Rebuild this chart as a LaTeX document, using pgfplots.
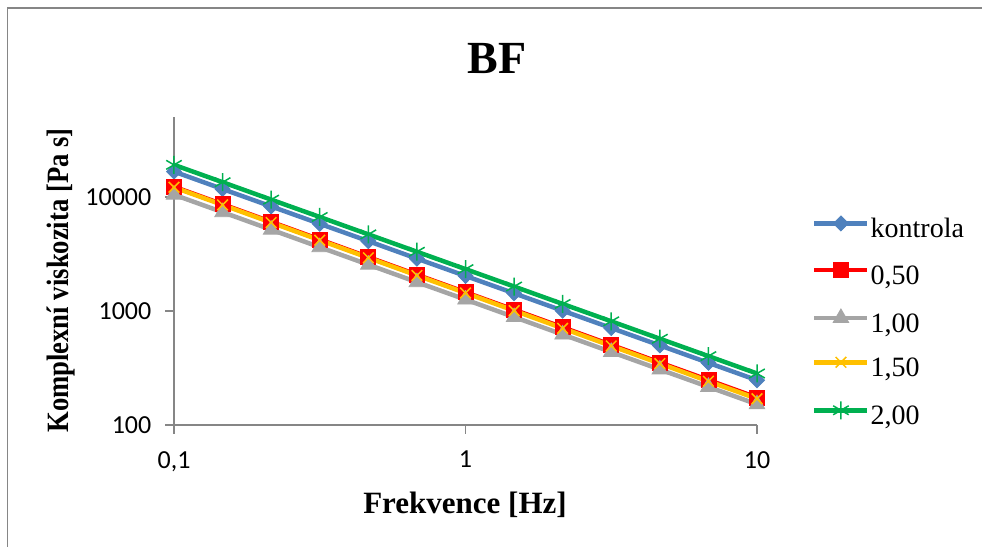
\documentclass[border=0pt]{standalone}
\usepackage{pgfplots}
\pgfplotsset{compat=1.18}
\usepackage{fontspec}
\setmainfont{Liberation Serif}
\newfontfamily\carlito{Carlito}
\definecolor{cBlue}{HTML}{4F81BD}
\definecolor{cRed}{HTML}{FF0000}
\definecolor{cGray}{HTML}{A5A5A5}
\definecolor{cYel}{HTML}{FFC000}
\definecolor{cGreen}{HTML}{00B050}
\definecolor{axgray}{HTML}{868686}
\begin{document}
\begin{tikzpicture}
\path[use as bounding box] (0,0) rectangle (982bp,-547bp);
\draw[color=axgray, line width=1.5bp] (7.5bp,-547bp) -- (7.5bp,-8bp) -- (982bp,-8bp);
\node[anchor=base, font=\fontsize{46bp}{50bp}\selectfont\bfseries] at (497bp,-73.3bp) {BF};
\node[anchor=base, font=\fontsize{31bp}{34bp}\selectfont\bfseries] at (465bp,-513bp) {Frekvence [Hz]};
\node[anchor=base, rotate=90, font=\fontsize{31bp}{34bp}\selectfont\bfseries] at (68.3bp,-280.5bp) {\scalebox{0.86}[1]{Komplexní viskozita [Pa s]}};
\begin{axis}[
  at={(174bp,-425bp)}, anchor=south west,
  width=583bp, height=307.7bp, scale only axis,
  xmode=log, ymode=log,
  xmin=0.1, xmax=10, ymin=100, ymax=50000,
  axis x line*=bottom, axis y line*=left,
  axis line style={axgray, line width=1.3bp, -},
  every outer x axis line/.append style={-},
  every outer y axis line/.append style={-},
  xtick={0.1,1,10}, xticklabels={{0,1},1,10},
  ytick={100,1000,10000}, yticklabels={100,1000,10000},
  xminorticks=false, yminorticks=false,
  tick align=outside, major tick length=9bp,
  tick style={axgray, line width=1.3bp},
  ticklabel style={font=\carlito\fontsize{26bp}{27bp}\selectfont, inner sep=0pt},
  xticklabel style={anchor=north, yshift=-17bp},
  yticklabel style={anchor=east, xshift=-13.5bp},
  clip=false,
  legend style={at={(1.0943,0.680)}, anchor=north west, draw=none, fill=none,
    inner sep=0pt, row sep=18.5bp, column sep=1bp,
    font=\fontsize{28bp}{28bp}\selectfont,
    nodes={inner sep=0pt, text height=19bp, text depth=6bp}},
  legend cell align=left,
  legend image code/.code={\draw[mark repeat=2,mark phase=2,#1] plot coordinates {(0bp,8bp) (26.5bp,8bp) (53bp,8bp)};},
]
\addplot[color=cBlue, line width=4.5bp, mark=diamond*, mark size=7.5bp,
  mark options={solid, xscale=1.33, fill=cBlue, line width=0.8bp}] coordinates {
(0.1,16700) (0.1468,11740) (0.2154,8270) (0.3162,5820) (0.4642,4100) (0.6813,2880)
(1,2030) (1.468,1430) (2.154,1006) (3.162,709) (4.642,499) (6.813,351) (10,247)};
\addlegendentry{kontrola}
\addplot[color=cRed, line width=4.5bp, mark=square*, mark size=7.5bp,
  mark options={solid, fill=cRed, line width=0.8bp}] coordinates {
(0.1,12300) (0.1468,8630) (0.2154,6050) (0.3162,4240) (0.4642,2970) (0.6813,2080)
(1,1460) (1.468,1025) (2.154,719) (3.162,504) (4.642,353) (6.813,248) (10,174)};
\addlegendentry{0,50}
\addplot[color=cGray, line width=4.5bp, mark=triangle*, mark size=9bp,
  mark options={solid, fill=cGray, line width=0.8bp}] coordinates {
(0.1,10470) (0.1468,7360) (0.2154,5170) (0.3162,3630) (0.4642,2550) (0.6813,1790)
(1,1260) (1.468,885) (2.154,622) (3.162,437) (4.642,307) (6.813,216) (10,152)};
\addlegendentry{1,00}
\addplot[color=cYel, line width=4.5bp, mark=x, mark size=7.5bp,
  mark options={solid, line width=1.5bp}] coordinates {
(0.1,12160) (0.1468,8520) (0.2154,5970) (0.3162,4180) (0.4642,2930) (0.6813,2050)
(1,1440) (1.468,1007) (2.154,705) (3.162,494) (4.642,346) (6.813,242) (10,170)};
\addlegendentry{1,50}
\addplot[color=cGreen, line width=4.5bp, mark=asterisk, mark size=9bp,
  mark options={solid, line width=1.5bp}] coordinates {
(0.1,19140) (0.1468,13480) (0.2154,9480) (0.3162,6680) (0.4642,4700) (0.6813,3310)
(1,2330) (1.468,1640) (2.154,1153) (3.162,812) (4.642,571) (6.813,402) (10,283)};
\addlegendentry{2,00}
\end{axis}
\end{tikzpicture}
\end{document}
